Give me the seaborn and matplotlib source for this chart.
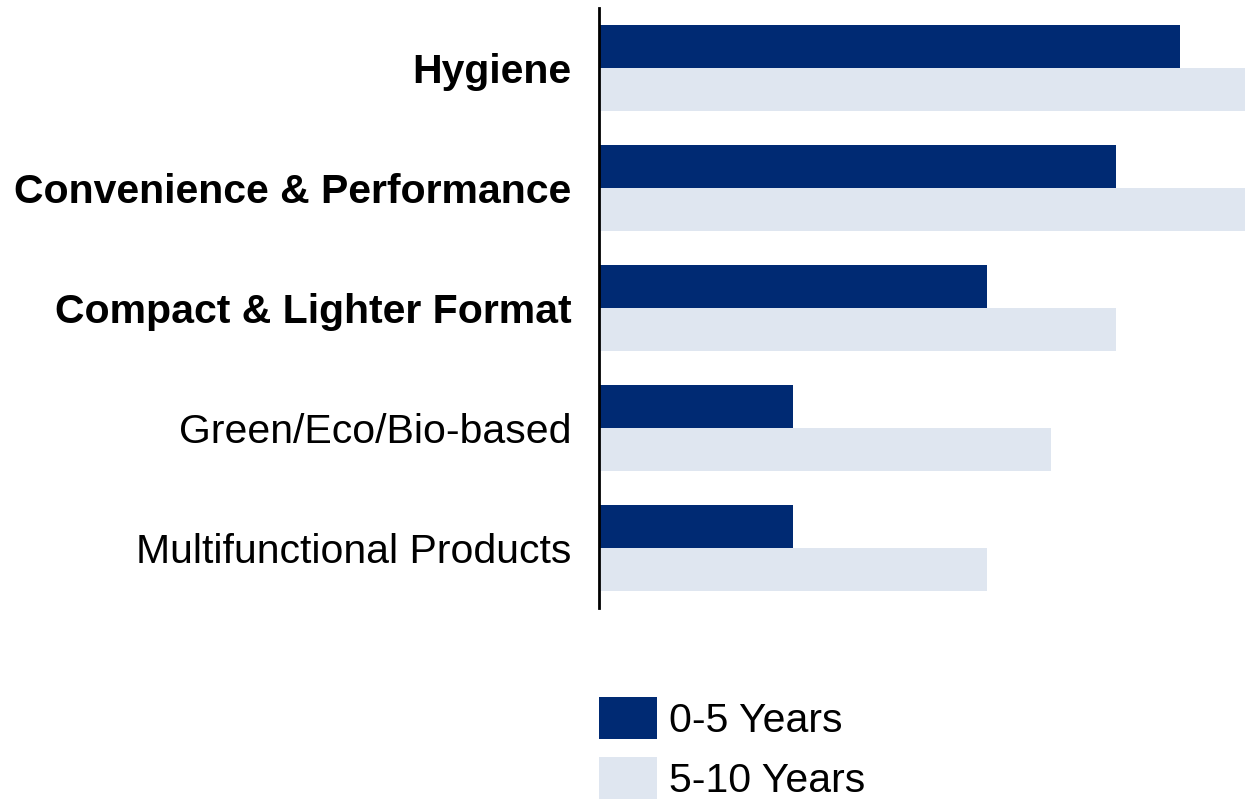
import matplotlib
matplotlib.use("Agg")
import matplotlib.pyplot as plt
import seaborn as sns
import pandas as pd

categories = ["Hygiene", "Convenience & Performance", "Compact & Lighter Format",
              "Green/Eco/Bio-based", "Multifunctional Products"]
bold_categories = ["Hygiene", "Convenience & Performance", "Compact & Lighter Format"]
series_names = ["0-5 Years", "5-10 Years"]
values_0_5 = [9, 8, 6, 3, 3]
values_5_10 = [10, 10, 8, 7, 6]
colors = ["#002A73", "#DFE6F0"]

df = pd.DataFrame({
    "category": categories * 2,
    "series": [series_names[0]] * len(categories) + [series_names[1]] * len(categories),
    "value": values_0_5 + values_5_10,
})

sns.set_theme(style="white")
plt.rcParams["font.family"] = ["Liberation Sans", "DejaVu Sans"]

fig = plt.figure(figsize=(12.55, 7.99), dpi=100)
ax = fig.add_axes([599 / 1255, 1 - 608 / 799, (1245 - 599) / 1255, 600 / 799])

sns.barplot(data=df, y="category", x="value", hue="series", order=categories,
            hue_order=series_names, palette=colors, orient="h", width=0.72,
            saturation=1, ax=ax, linewidth=0)

ax.set_xlim(0, 10)
ax.set_ylim(len(categories) - 0.5, -0.5)
ax.set_xlabel("")
ax.set_ylabel("")
ax.set_xticks([])
for s in ["top", "right", "bottom"]:
    ax.spines[s].set_visible(False)
ax.spines["left"].set_color("black")
ax.spines["left"].set_linewidth(2)
ax.tick_params(axis="y", length=0, pad=20)
for lbl in ax.get_yticklabels():
    lbl.set_fontsize(29.5)
    lbl.set_color("black")
    if lbl.get_text() in bold_categories:
        lbl.set_fontweight("bold")

sns.move_legend(ax, loc="upper left", bbox_to_anchor=(599 / 1255, 1 - 697 / 799),
                bbox_transform=fig.transFigure, frameon=False, title=None,
                fontsize=29.5, handlelength=1.42, handleheight=1.2, labelspacing=0.42,
                handletextpad=0.3, borderpad=0, borderaxespad=0)
for t in ax.get_legend().get_texts():
    t.set_color("black")

fig.savefig("out.png", dpi=100)
